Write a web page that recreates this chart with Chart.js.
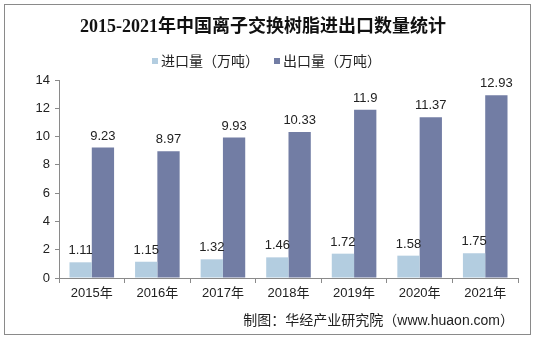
<!DOCTYPE html>
<html>
<head>
<meta charset="utf-8">
<script src="https://cdn.jsdelivr.net/npm/chart.js@4"></script>
<style>
  body { margin: 0; background: #fff; }
  #wrap { position: relative; width: 535px; height: 338px; }
  #frame { position: absolute; left: 4px; top: 4px; width: 525px; height: 329px; border: 1px solid #8a8a8a; pointer-events: none; }
</style>
</head>
<body>
<div id="wrap">
  <canvas id="canvas" width="535" height="338"></canvas>
  <div id="frame"></div>
</div>
<script>
// 年份
const labels = ['2015年', '2016年', '2017年', '2018年', '2019年', '2020年', '2021年'];

// 进口量、出口量（万吨）
const importData = [1.11, 1.15, 1.32, 1.46, 1.72, 1.58, 1.75];
const exportData = [9.23, 8.97, 9.93, 10.33, 11.9, 11.37, 12.93];

const seriesNames = ['进口量（万吨）', '出口量（万吨）'];
const seriesColors = ['#b3cde0', '#727da4'];

const titleText = '2015-2021年中国离子交换树脂进出口数量统计';
const sourceText = '制图：华经产业研究院（www.huaon.com）';

const sansFont = "'Liberation Sans', 'Noto Sans CJK SC', sans-serif";

// 标题、图例、数值标签、来源
const decorPlugin = {
  id: 'decor',
  afterDraw(chart) {
    const ctx = chart.ctx;
    ctx.save();
    // 标题
    ctx.fillStyle = '#111';
    ctx.font = "bold 18px 'Liberation Serif', 'Noto Sans CJK SC', serif";
    ctx.textAlign = 'center';
    ctx.textBaseline = 'middle';
    ctx.fillText(titleText, 263, 27);

    // 图例
    ctx.font = '14px ' + sansFont;
    ctx.textAlign = 'left';
    let x = 152;
    seriesNames.forEach((name, i) => {
      ctx.fillStyle = seriesColors[i];
      ctx.fillRect(x, 58, 6, 6);
      ctx.fillStyle = '#222';
      ctx.fillText(name, x + 9, 62);
      x += 122;
    });

    // 数值标签
    ctx.font = '13px ' + sansFont;
    ctx.textAlign = 'center';
    ctx.textBaseline = 'bottom';
    ctx.fillStyle = '#222';
    chart.data.datasets.forEach((ds, i) => {
      chart.getDatasetMeta(i).data.forEach((bar, j) => {
        ctx.fillText(String(ds.data[j]), bar.x, bar.y - 5);
      });
    });

    // 来源
    ctx.font = '14px ' + sansFont;
    ctx.textAlign = 'right';
    ctx.textBaseline = 'middle';
    ctx.fillStyle = '#222';
    ctx.fillText(sourceText, 514, 321);
    ctx.restore();
  }
};

const data = {
  labels: labels,
  datasets: seriesNames.map((name, i) => ({
    label: name,
    data: i === 0 ? importData : exportData,
    backgroundColor: seriesColors[i],
    categoryPercentage: 0.68,
    barPercentage: 1.0
  }))
};

const config = {
  type: 'bar',
  data: data,
  options: {
    responsive: false,
    animation: false,
    layout: { padding: { left: 0, right: 17, top: 80, bottom: 0 } },
    plugins: {
      legend: { display: false },
      title: { display: false },
      tooltip: { enabled: false }
    },
    scales: {
      x: {
        offset: true,
        grid: { drawOnChartArea: false, offset: true, tickLength: 5, color: '#8a8a8a' },
        border: { color: '#8a8a8a' },
        ticks: { color: '#222', font: { size: 13, family: sansFont }, padding: 3 },
        afterFit(scale) { scale.height = 60; }
      },
      y: {
        min: 0,
        max: 14,
        grid: { drawOnChartArea: false, tickLength: 4, color: '#8a8a8a' },
        border: { color: '#8a8a8a' },
        ticks: { stepSize: 2, color: '#222', font: { size: 13, family: sansFont }, padding: 5 },
        afterFit(scale) { scale.width = 59; }
      }
    }
  },
  plugins: [decorPlugin]
};

const canvas = document.getElementById('canvas');
const chart = new Chart(canvas, config);
</script>
</body>
</html>
